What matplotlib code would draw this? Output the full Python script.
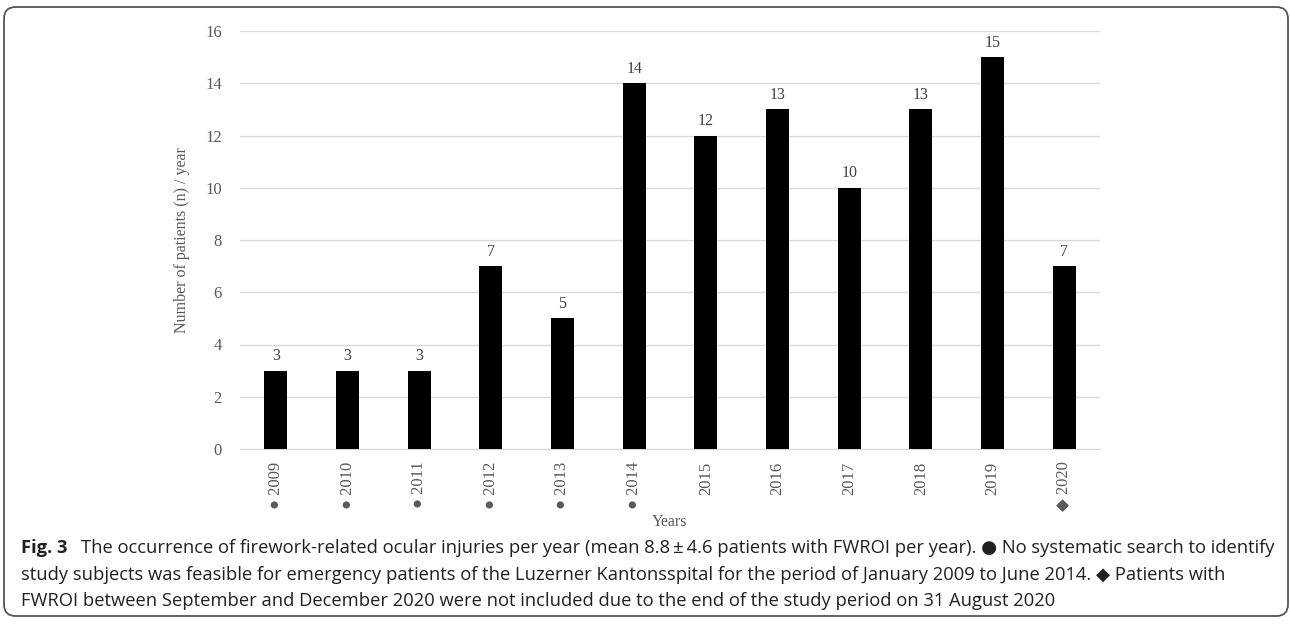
import matplotlib
matplotlib.use('Agg')
import matplotlib.pyplot as plt
from matplotlib.patches import FancyBboxPatch

# Data
years = ['2009', '2010', '2011', '2012', '2013', '2014',
         '2015', '2016', '2017', '2018', '2019', '2020']
patients = [3, 3, 3, 7, 5, 14, 12, 13, 10, 13, 15, 7]
# marker shown under each year label
year_marks = ['●', '●', '●', '●', '●', '●', '', '', '', '', '', '◆']

serif = ['Liberation Serif', 'DejaVu Serif']
sans = ['Open Sans', 'DejaVu Sans']
grey = '#595959'

W, H = 1290, 624
fig = plt.figure(figsize=(W / 100, H / 100), dpi=100)

# rounded frame around the whole figure
frame = FancyBboxPatch((4 / W, 8 / H), 1284 / W, 609 / H,
                       boxstyle='round,pad=0,rounding_size=0.009',
                       transform=fig.transFigure, fill=False,
                       edgecolor='#555555', linewidth=1.3,
                       mutation_aspect=W / H)
fig.patches.append(frame)

# axes: x 240..1100, y 31..449 (pixels from top)
ax = fig.add_axes([240 / W, 1 - 449 / H, 860 / W, 418 / H])

x = range(len(years))
bars = ax.bar(x, patients, width=0.32, color='black', zorder=3)
for xi, v in zip(x, patients):
    ax.text(xi, v + 0.25, str(v), ha='center', va='bottom',
            fontsize=11.5, family=serif, color='#404040')

ax.set_xlim(-0.5, len(years) - 0.5)
ax.set_ylim(0, 16)
ax.set_yticks(range(0, 17, 2))
ax.grid(axis='y', color='#d9d9d9', linewidth=1, zorder=0)
for s in ['top', 'right', 'left']:
    ax.spines[s].set_visible(False)
ax.spines['bottom'].set_color('#d9d9d9')
ax.tick_params(length=0, colors=grey, labelsize=12)
ax.tick_params(axis='y', pad=13)
ax.tick_params(axis='x', pad=9)

labels = [(m + ' ' if m else '') + y for m, y in zip(year_marks, years)]
ax.set_xticks(list(x))
ax.set_xticklabels(labels, rotation=90, family=serif + ['DejaVu Sans'])

for lab in ax.get_yticklabels():
    lab.set_family(serif)

ax.set_ylabel('Number of patients (n) / year', family=serif,
              fontsize=11.5, color=grey, labelpad=11)
fig.text(670 / W, 1 - 522 / H, 'Years', ha='center', va='center',
         family=serif, fontsize=11.5, color=grey)

# caption
cap_col = '#231f20'
cap_size = 13.2
fig.text(21 / W, 1 - 553 / H, 'Fig. 3', family=sans, fontsize=cap_size,
         fontweight='bold', color=cap_col, va='baseline')
fig.text(81 / W, 1 - 553 / H,
         'The occurrence of firework-related ocular injuries per year '
         '(mean 8.8\u2009\u00b1\u20094.6 patients with FWROI per year). \u25cf No systematic search to identify',
         family=sans, fontsize=cap_size, color=cap_col, va='baseline')
fig.text(21 / W, 1 - 580 / H,
         'study subjects was feasible for emergency patients of the Luzerner '
         'Kantonsspital for the period of January 2009 to June 2014. \u25c6 Patients with',
         family=sans, fontsize=cap_size, color=cap_col, va='baseline')
fig.text(21 / W, 1 - 606 / H,
         'FWROI between September and December 2020 were not included due to '
         'the end of the study period on 31 August 2020',
         family=sans, fontsize=cap_size, color=cap_col, va='baseline')

fig.savefig('out.png', dpi=100)
